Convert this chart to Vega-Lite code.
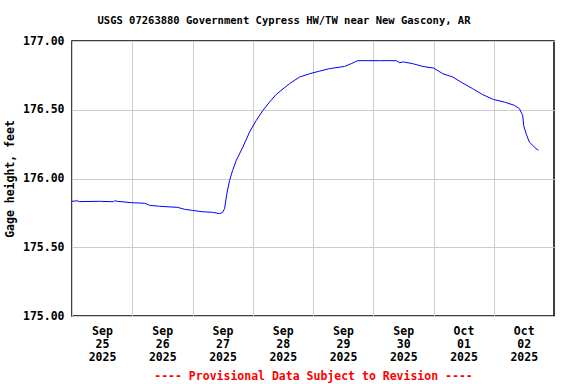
{
  "$schema": "https://vega.github.io/schema/vega-lite/v6.json",
  "width": 482,
  "height": 275,
  "autosize": "none",
  "padding": {"left": 72, "top": 41, "right": 22, "bottom": 68},
  "background": "white",
  "title": {
    "text": "USGS 07263880 Government Cypress HW/TW near New Gascony, AR",
    "font": "DejaVu Sans Mono",
    "fontSize": 10.5,
    "fontWeight": "bold",
    "color": "black",
    "anchor": "middle",
    "dx": -29,
    "offset": 9
  },
  "config": {
    "view": {"stroke": "black", "strokeWidth": 1.5},
    "axis": {
      "labelFont": "DejaVu Sans Mono",
      "labelFontWeight": "bold",
      "labelFontSize": 11.5,
      "labelColor": "black",
      "titleFont": "DejaVu Sans Mono",
      "titleFontWeight": "bold",
      "titleFontSize": 11.5,
      "titleColor": "black",
      "gridColor": "#cccccc",
      "gridWidth": 1,
      "gridOpacity": 1,
      "domain": false,
      "ticks": false
    }
  },
  "data": {
    "values": [
      {"t": "2025-09-25T00:00:00", "v": 175.834},
      {"t": "2025-09-25T02:00:00", "v": 175.838},
      {"t": "2025-09-25T03:00:00", "v": 175.832},
      {"t": "2025-09-25T11:00:00", "v": 175.834},
      {"t": "2025-09-25T16:30:00", "v": 175.831},
      {"t": "2025-09-25T17:00:00", "v": 175.838},
      {"t": "2025-09-25T18:00:00", "v": 175.834},
      {"t": "2025-09-25T23:45:00", "v": 175.824},
      {"t": "2025-09-26T05:00:00", "v": 175.82},
      {"t": "2025-09-26T06:55:00", "v": 175.805},
      {"t": "2025-09-26T10:55:00", "v": 175.798},
      {"t": "2025-09-26T18:05:00", "v": 175.79},
      {"t": "2025-09-26T20:51:00", "v": 175.776},
      {"t": "2025-09-27T00:03:00", "v": 175.768},
      {"t": "2025-09-27T04:02:00", "v": 175.758},
      {"t": "2025-09-27T08:01:00", "v": 175.754},
      {"t": "2025-09-27T10:48:00", "v": 175.744},
      {"t": "2025-09-27T12:00:00", "v": 175.754},
      {"t": "2025-09-27T12:47:00", "v": 175.781},
      {"t": "2025-09-27T13:42:00", "v": 175.892},
      {"t": "2025-09-27T14:47:00", "v": 175.987},
      {"t": "2025-09-27T15:59:00", "v": 176.059},
      {"t": "2025-09-27T17:27:00", "v": 176.132},
      {"t": "2025-09-27T20:04:00", "v": 176.229},
      {"t": "2025-09-27T22:44:00", "v": 176.338},
      {"t": "2025-09-28T01:25:00", "v": 176.423},
      {"t": "2025-09-28T04:02:00", "v": 176.495},
      {"t": "2025-09-28T06:42:00", "v": 176.556},
      {"t": "2025-09-28T09:22:00", "v": 176.612},
      {"t": "2025-09-28T14:40:00", "v": 176.69},
      {"t": "2025-09-28T18:39:00", "v": 176.738},
      {"t": "2025-09-28T22:38:00", "v": 176.762},
      {"t": "2025-09-29T02:37:00", "v": 176.781},
      {"t": "2025-09-29T06:36:00", "v": 176.799},
      {"t": "2025-09-29T12:34:00", "v": 176.815},
      {"t": "2025-09-29T15:13:00", "v": 176.835},
      {"t": "2025-09-29T17:51:00", "v": 176.857},
      {"t": "2025-09-30T02:30:00", "v": 176.857},
      {"t": "2025-09-30T09:09:00", "v": 176.857},
      {"t": "2025-09-30T10:27:00", "v": 176.842},
      {"t": "2025-09-30T12:00:00", "v": 176.848},
      {"t": "2025-09-30T15:45:00", "v": 176.835},
      {"t": "2025-09-30T19:44:00", "v": 176.815},
      {"t": "2025-10-01T00:06:00", "v": 176.803},
      {"t": "2025-10-01T03:42:00", "v": 176.762},
      {"t": "2025-10-01T07:41:00", "v": 176.738},
      {"t": "2025-10-01T11:38:00", "v": 176.694},
      {"t": "2025-10-01T15:37:00", "v": 176.653},
      {"t": "2025-10-01T19:36:00", "v": 176.61},
      {"t": "2025-10-01T23:51:00", "v": 176.575},
      {"t": "2025-10-02T04:14:00", "v": 176.556},
      {"t": "2025-10-02T08:14:00", "v": 176.532},
      {"t": "2025-10-02T10:13:00", "v": 176.508},
      {"t": "2025-10-02T10:54:00", "v": 176.483},
      {"t": "2025-10-02T11:31:00", "v": 176.459},
      {"t": "2025-10-02T11:55:00", "v": 176.386},
      {"t": "2025-10-02T12:53:00", "v": 176.326},
      {"t": "2025-10-02T14:11:00", "v": 176.265},
      {"t": "2025-10-02T15:30:00", "v": 176.241},
      {"t": "2025-10-02T16:52:00", "v": 176.217},
      {"t": "2025-10-02T17:47:00", "v": 176.205}
    ]
  },
  "mark": {"type": "line", "color": "#0000ff", "strokeWidth": 1},
  "encoding": {
    "x": {
      "field": "t",
      "type": "temporal",
      "scale": {"domain": [{"year": 2025, "month": 9, "date": 25}, {"year": 2025, "month": 10, "date": 3}]},
      "axis": {
        "values": [
          {"year": 2025, "month": 9, "date": 25},
          {"year": 2025, "month": 9, "date": 26},
          {"year": 2025, "month": 9, "date": 27},
          {"year": 2025, "month": 9, "date": 28},
          {"year": 2025, "month": 9, "date": 29},
          {"year": 2025, "month": 9, "date": 30},
          {"year": 2025, "month": 10, "date": 1},
          {"year": 2025, "month": 10, "date": 2}
        ],
        "labelExpr": "[timeFormat(datum.value, '%b'), timeFormat(datum.value, '%d'), timeFormat(datum.value, '%Y')]",
        "labelOffset": 30,
        "labelPadding": 9,
        "labelLineHeight": 13,
        "labelOverlap": false,
        "labelBound": false,
        "labelFlush": false,
        "title": "---- Provisional Data Subject to Revision ----",
        "titleColor": "#ff0000",
        "titlePadding": 8
      }
    },
    "y": {
      "field": "v",
      "type": "quantitative",
      "scale": {"domain": [175, 177], "zero": false, "nice": false},
      "axis": {
        "values": [175, 175.5, 176, 176.5, 177],
        "format": ".2f",
        "labelPadding": 8,
        "title": "Gage height, feet",
        "titlePadding": 7
      }
    }
  }
}
